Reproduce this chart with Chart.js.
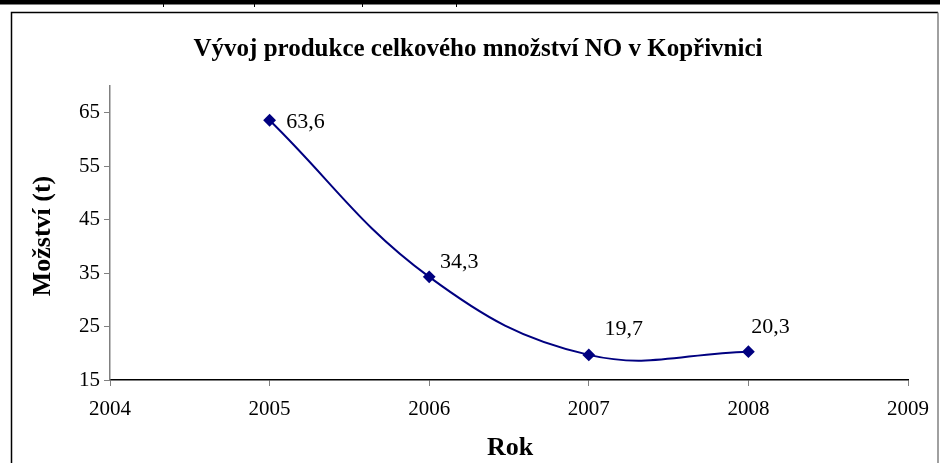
<!DOCTYPE html>
<html>
<head>
<meta charset="utf-8">
<script src="https://cdn.jsdelivr.net/npm/chart.js@4/dist/chart.umd.min.js"></script>
<style>
  html, body { margin: 0; padding: 0; background: #fff; }
  #graf { display: block; }
</style>
</head>
<body>
<canvas id="graf" width="940" height="463"></canvas>
<script>
var roky = [2005, 2006, 2007, 2008];
var mnozstvi = [63.6, 34.3, 19.7, 20.3];
var popisky = ["63,6", "34,3", "19,7", "20,3"];
var ticksY = [15, 25, 35, 45, 55, 65];
var ticksX = [2004, 2005, 2006, 2007, 2008, 2009];
var titulek = "Vývoj produkce celkového množství NO v Kopřivnici";
var osaX = "Rok";
var osaY = "Možství (t)";

// posun popisku od bodu (px)
var posunPopisku = [[36, 2], [30, -15], [35, -26], [22, -24]];

var body = [];
for (var i = 0; i < roky.length; i++) {
  body.push({ x: roky[i], y: mnozstvi[i] });
}

var ramecek = {
  id: "ramecek",
  beforeDraw: function (chart) {
    var c = chart.ctx;
    c.save();
    c.fillStyle = "#fff";
    c.fillRect(0, 0, 940, 463);
    // horni silna cara
    c.fillStyle = "#000";
    c.fillRect(0, 0, 940, 4.5);
    c.lineWidth = 1;
    c.strokeStyle = "#000";
    [163, 254, 362, 456].forEach(function (x) {
      c.beginPath();
      c.moveTo(x + 0.5, 4);
      c.lineTo(x + 0.5, 7);
      c.stroke();
    });
    // ramecek grafu
    c.lineWidth = 1.5;
    c.beginPath();
    c.moveTo(11.5, 463);
    c.lineTo(11.5, 12.5);
    c.lineTo(938, 12.5);
    c.stroke();
    c.strokeStyle = "#808080";
    c.beginPath();
    c.moveTo(938, 12.5);
    c.lineTo(938, 463);
    c.stroke();
    c.restore();
  },
  afterDraw: function (chart) {
    var c = chart.ctx;
    c.save();
    c.fillStyle = "#000";
    c.textAlign = "center";
    c.textBaseline = "middle";
    c.font = "bold 25px 'Liberation Serif'";
    c.fillText(titulek, 478, 50);
    c.font = "bold 26px 'Liberation Serif'";
    c.fillText(osaX, 510, 448);
    c.save();
    c.translate(43, 236);
    c.rotate(-Math.PI / 2);
    c.fillText(osaY, 0, 0);
    c.restore();
    // popisky hodnot
    c.font = "22px 'Liberation Serif'";
    var meta = chart.getDatasetMeta(0);
    meta.data.forEach(function (pt, i) {
      c.fillText(popisky[i], pt.x + posunPopisku[i][0], pt.y + posunPopisku[i][1]);
    });
    c.restore();
  }
};

var ctx = document.getElementById("graf");
var myChart = new Chart(ctx, {
  type: "line",
  data: {
    datasets: [
      {
        data: body,
        borderColor: "#000080",
        backgroundColor: "#000080",
        borderWidth: 2,
        tension: 0.4,
        pointStyle: "rectRot",
        pointRadius: 5,
        pointHoverRadius: 5,
        fill: false
      }
    ]
  },
  options: {
    responsive: false,
    animation: false,
    layout: { padding: { left: 0, top: 86, right: 28, bottom: 0 } },
    plugins: {
      legend: { display: false },
      title: { display: false },
      tooltip: { enabled: false }
    },
    scales: {
      x: {
        type: "linear",
        min: 2004,
        max: 2009,
        afterFit: function (s) { s.height = 83; },
        afterBuildTicks: function (s) {
          s.ticks = ticksX.map(function (v) { return { value: v }; });
        },
        ticks: {
          padding: 11,
          color: "#000",
          font: { family: "Liberation Serif", size: 21 },
          callback: function (v) { return String(v); }
        },
        grid: { drawOnChartArea: false, drawTicks: true, tickLength: 6, color: "#808080" },
        border: { color: "#000", width: 1.5 }
      },
      y: {
        min: 15,
        max: 70,
        afterFit: function (s) { s.width = 110; },
        afterBuildTicks: function (s) {
          s.ticks = ticksY.map(function (v) { return { value: v }; });
        },
        ticks: {
          padding: 4,
          color: "#000",
          font: { family: "Liberation Serif", size: 21 }
        },
        grid: { drawOnChartArea: false, drawTicks: true, tickLength: 6, color: "#808080" },
        border: { color: "#808080", width: 1.5 }
      }
    }
  },
  plugins: [ramecek]
});
</script>
</body>
</html>
